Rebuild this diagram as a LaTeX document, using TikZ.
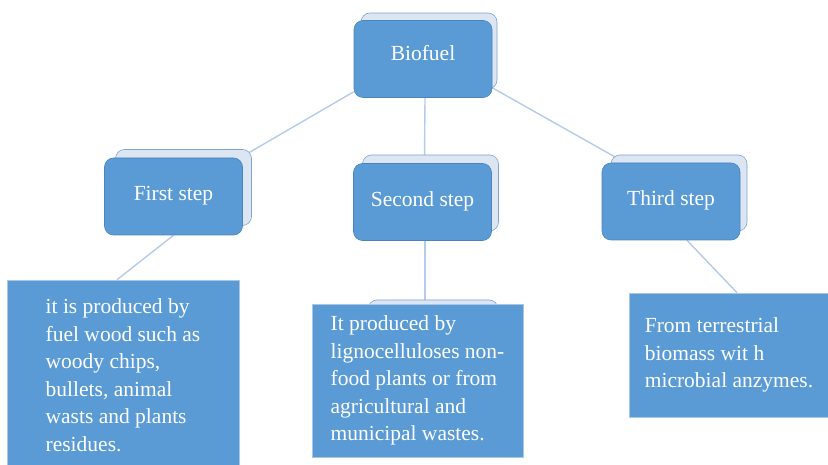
\documentclass[tikz,border=0pt]{standalone}
\usepackage{fontspec}
\setmainfont{Liberation Serif}
\usepackage{tikz}
\usetikzlibrary{positioning}

\definecolor{boxblue}{HTML}{5B9BD5}
\definecolor{boxedge}{HTML}{4A84BE}
\definecolor{shadowfill}{HTML}{DCE6F2}
\definecolor{shadowedge}{HTML}{7FA3CD}
\definecolor{linkblue}{HTML}{B4CCE8}
\definecolor{textedge}{HTML}{A9C6E6}

\pgfdeclarelayer{links}
\pgfdeclarelayer{shadows}
\pgfsetlayers{links,shadows,main}

\begin{document}
\begin{tikzpicture}[x=1pt,y=-1pt]
			\tikzstyle{stepbox} = [rectangle, rounded corners=9pt, fill=boxblue, draw=boxedge, line width=0.6pt, minimum width=138pt, minimum height=77pt, text=white, text height=15pt, text depth=6pt, font={\rmfamily\fontsize{21.5}{27.5}\selectfont}]
			\tikzstyle{stepshadow} = [rectangle, rounded corners=9pt, fill=shadowfill, draw=shadowedge, line width=0.6pt, minimum width=136pt, minimum height=76pt]
			\tikzstyle{textbox} = [rectangle, fill=boxblue, draw=textedge, line width=0.6pt, align=left, inner sep=0pt, text=white, font={\rmfamily\fontsize{21.5}{27.5}\selectfont}]
			\tikzstyle{link} = [draw=linkblue, line width=1.4pt]
			\useasboundingbox (0,0) rectangle (828,465);
			% top and step boxes
			\node[stepbox, text depth=11pt] (bio) at (423,59) {Biofuel};
			\node[stepbox] (first) at (173.5,196.5) {First step};
			\node[stepbox] (second) at (422.5,202) {Second step};
			\node[stepbox] (third) at (671,201.5) {Third step};
			% text boxes
			\node[textbox, minimum width=232pt, minimum height=190pt] (box1) at (123,375)
				{it is produced by\\fuel wood such as\\woody chips,\\bullets, animal\\wasts and plants\\residues.};
			\node[textbox, minimum width=211pt, minimum height=153pt] (box2) at (417.5,380.5)
				{It produced by\\lignocelluloses non-\\food plants or from\\agricultural and\\municipal wastes.};
			\node[textbox, minimum width=200pt, minimum height=124pt] (box3) at (729,355)
				{From terrestrial\\biomass wit h\\microbial anzymes.};
			\begin{pgfonlayer}{shadows}
				\node[stepshadow] (biobk) at ([shift={(6,-8)}]bio.center) {};
				\node[stepshadow] (firstbk) at ([shift={(10,-9)}]first.center) {};
				\node[stepshadow] (secondbk) at ([shift={(8,-9)}]second.center) {};
				\node[stepshadow] (thirdbk) at ([shift={(8,-8.5)}]third.center) {};
				\node[stepshadow, minimum width=130pt, minimum height=100pt] (box2bk) at (433,350) {};
			\end{pgfonlayer}
			\begin{pgfonlayer}{links}
				\draw[link] ([yshift=6pt]bio.south west) -- (first.center);
				\draw[link] ([xshift=2pt]bio.south) -- ([xshift=2pt]second.north);
				\draw[link] ([yshift=10pt]bio.south east) -- (thirdbk.center);
				\draw[link] (first.south) -- ([xshift=-6pt]box1.north);
				\draw[link] ([xshift=2.5pt]second.south) -- ([xshift=2.5pt]second.south |- box2bk.north);
				\draw[link] ([xshift=16pt]third.south) -- ([xshift=8pt]box3.north);
			\end{pgfonlayer}
\end{tikzpicture}
\end{document}
